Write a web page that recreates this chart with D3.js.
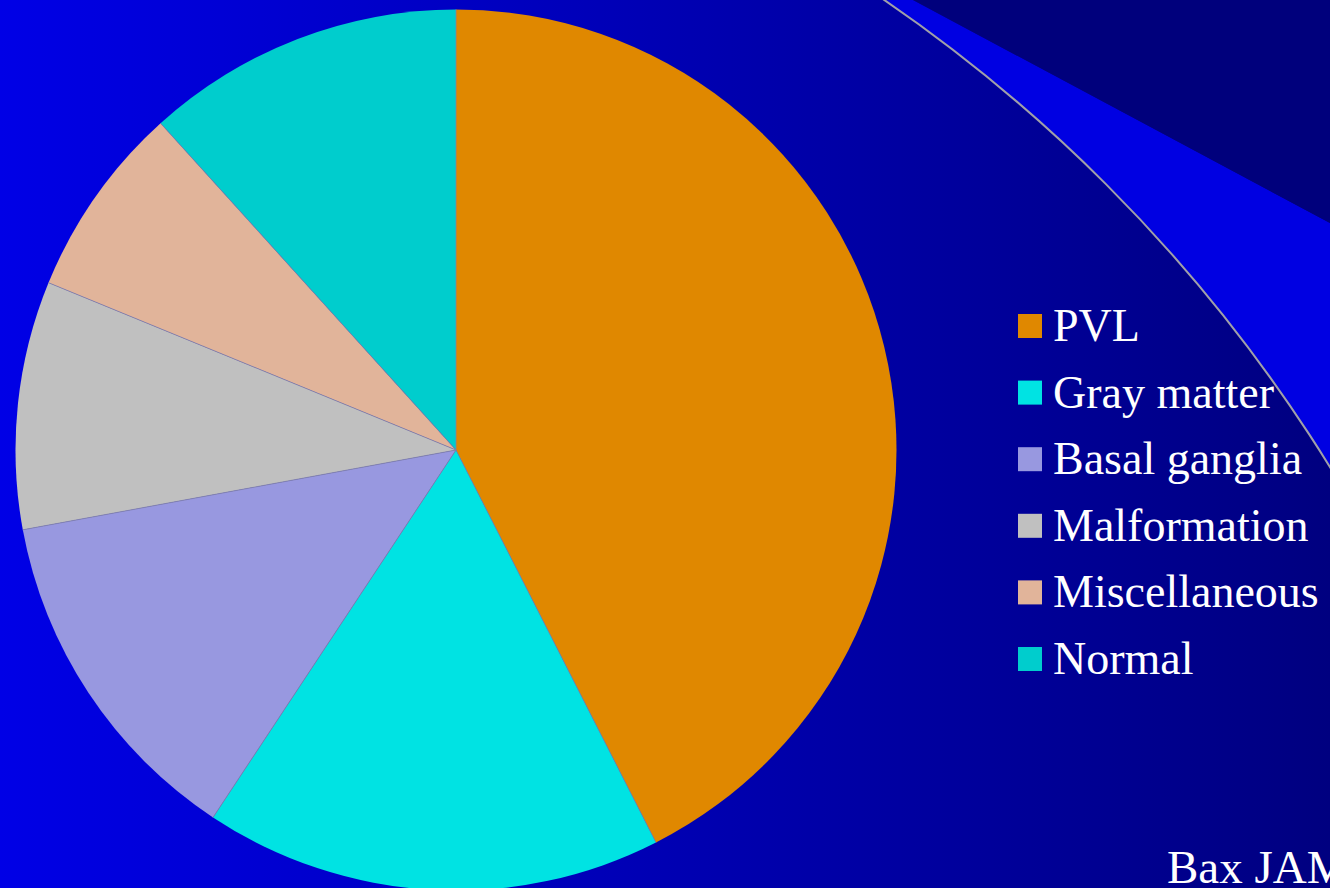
<!DOCTYPE html>
<html>
<head>
<meta charset="utf-8">
<script src="https://cdn.jsdelivr.net/npm/d3@7"></script>
<style>
  html, body { margin: 0; padding: 0; overflow: hidden; background: #0000b0; }
  svg { display: block; }
</style>
</head>
<body>
<svg id="chart" width="1330" height="888"></svg>
<script>
// Share of MRI findings (%)
const categories = ["PVL", "Gray matter", "Basal ganglia", "Malformation", "Miscellaneous", "Normal"];
const values = [42.5, 16.8, 12.8, 9.1, 7.1, 11.7];
const colors = ["#e08800", "#00e3e3", "#9898e0", "#c0c0c0", "#e1b49a", "#00cdcd"];
const sourceNote = "Bax JAMA 2006";

const W = 1330, H = 888;
const svg = d3.select("#chart");

// Slide background: bright blue fading to navy
const defs = svg.append("defs");
const grad = defs.append("linearGradient")
  .attr("id", "bg").attr("gradientUnits", "userSpaceOnUse")
  .attr("x1", 0).attr("y1", 0).attr("x2", W).attr("y2", 0);
grad.append("stop").attr("offset", "0%").attr("stop-color", "#0000e6");
grad.append("stop").attr("offset", "100%").attr("stop-color", "#000080");

svg.append("rect").attr("width", W).attr("height", H).attr("fill", "url(#bg)");

// Decorative swoosh in the upper right corner
svg.append("path")
  .attr("d", "M880,0 L913,0 L1330,223 L1330,888 L880,888 Z")
  .attr("fill", "#0000e2");
svg.append("circle")
  .attr("cx", 0).attr("cy", 1290).attr("r", 1564)
  .attr("fill", "url(#bg)")
  .attr("stroke", "#a0a0a8").attr("stroke-width", 2);
svg.append("path")
  .attr("d", "M913,0 L1330,0 L1330,223 Z")
  .attr("fill", "#00007c");

// Pie
const cx = 456, cy = 450, R = 440.5;
const pie = d3.pie().sort(null).value(d => d.value);
const arcs = pie(categories.map((c, i) => ({ name: c, value: values[i], color: colors[i] })));
const arc = d3.arc().innerRadius(0).outerRadius(R);
const g = svg.append("g").attr("transform", `translate(${cx},${cy})`);

g.selectAll("path.slice")
  .data(arcs)
  .join("path")
  .attr("class", "slice")
  .attr("d", arc)
  .attr("fill", d => d.data.color);

// Thin separators along the slice edges
g.selectAll("line.sep")
  .data(arcs)
  .join("line")
  .attr("class", "sep")
  .attr("x1", 0).attr("y1", 0)
  .attr("x2", d => R * Math.sin(d.startAngle))
  .attr("y2", d => -R * Math.cos(d.startAngle))
  .attr("stroke", "#8080a8")
  .attr("stroke-width", 0.8);

// Legend
const legend = svg.append("g").attr("transform", "translate(1018,341)");
const rowH = 66.6;
const item = legend.selectAll("g.item")
  .data(categories)
  .join("g")
  .attr("class", "item")
  .attr("transform", (d, i) => `translate(0,${i * rowH})`);
item.append("rect")
  .attr("x", 0).attr("y", -27).attr("width", 24).attr("height", 24)
  .attr("fill", (d, i) => colors[i]);
item.append("text")
  .attr("x", 35).attr("y", 0)
  .attr("fill", "#ffffff")
  .attr("font-family", "'Liberation Serif', 'Times New Roman', serif")
  .attr("font-size", 46)
  .text(d => d);

// Source note
svg.append("text")
  .attr("x", 1167).attr("y", 883)
  .attr("fill", "#ffffff")
  .attr("font-family", "'Liberation Serif', 'Times New Roman', serif")
  .attr("font-size", 47)
  .text(sourceNote);
</script>
</body>
</html>
